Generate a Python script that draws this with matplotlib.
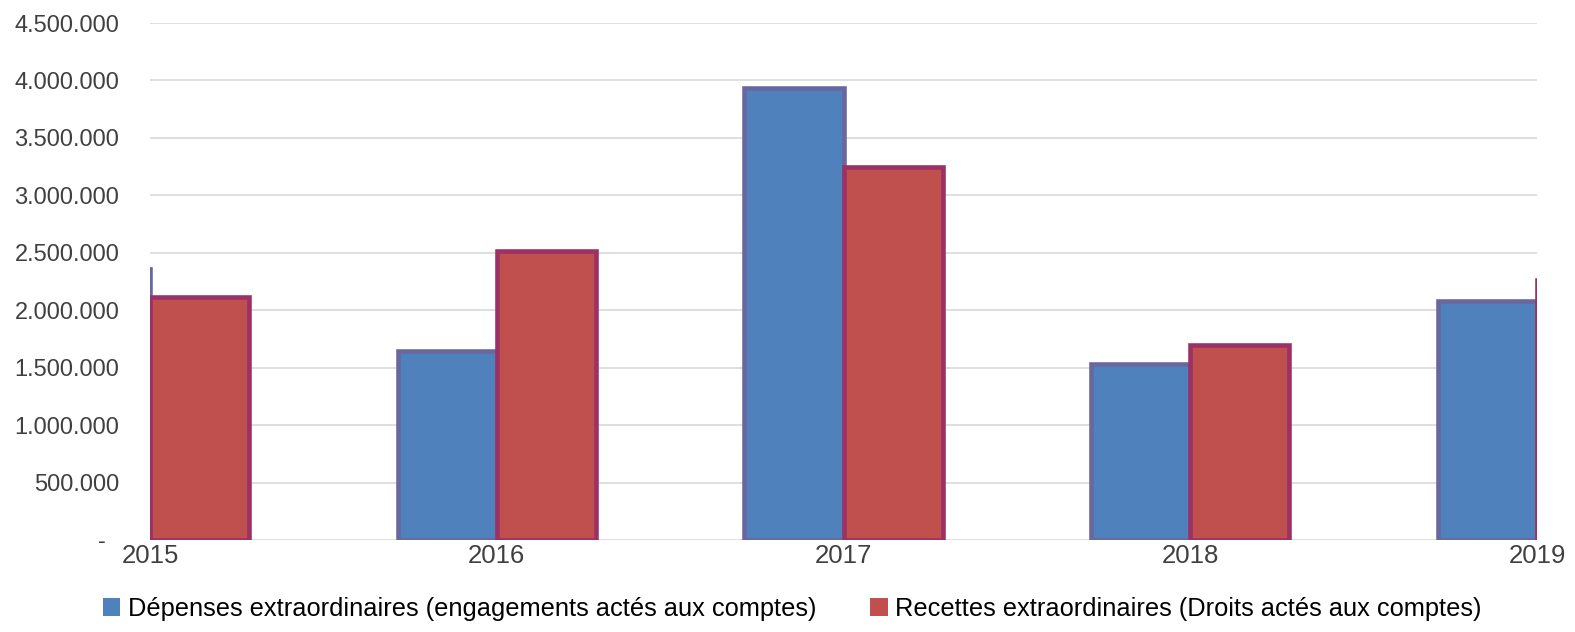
import matplotlib
matplotlib.use("Agg")
import matplotlib.pyplot as plt
from matplotlib.patches import Patch
from matplotlib.ticker import FuncFormatter
import numpy as np

plt.rcParams['font.family'] = ['Liberation Sans', 'DejaVu Sans']

years = ["2015", "2016", "2017", "2018", "2019"]
depenses = [2360000, 1648000, 3934000, 1532000, 2080000]
recettes = [2118000, 2515000, 3246000, 1697000, 2263000]
labels = ["Dépenses extraordinaires (engagements actés aux comptes)",
          "Recettes extraordinaires (Droits actés aux comptes)"]

W, H = 1575, 632
fig = plt.figure(figsize=(W / 100, H / 100), dpi=100)
ax = fig.add_axes([150 / W, 1 - 540 / H, (1537 - 150) / W, (540 - 23) / H])

x = np.arange(len(years))
bw = 0.286
ax.bar(x - bw, depenses, width=bw, align='edge', color='#4F81BD', edgecolor='#6A679E',
       linewidth=3.3, zorder=3)
ax.bar(x, recettes, width=bw, align='edge', color='#C0504D', edgecolor='#9B3165',
       linewidth=3.3, zorder=3)

ax.set_xlim(0, len(years) - 1)
ax.set_ylim(0, 4500000)
ax.set_yticks(np.arange(0, 4500001, 500000))

def fmt(v, pos):
    if v == 0:
        return "-  "
    return f"{int(v):,}".replace(",", ".")

ax.yaxis.set_major_formatter(FuncFormatter(fmt))
ax.set_xticks(x)
ax.set_xticklabels(years)
ax.grid(axis='y', color='#D9D9D9', linewidth=1.2, zorder=0)
for s in ax.spines.values():
    s.set_visible(False)
ax.tick_params(axis='both', length=0, colors='#404040')
ax.tick_params(axis='y', pad=22, labelsize=17)
ax.tick_params(axis='x', pad=3, labelsize=18.5)

handles = [Patch(facecolor='#4F81BD', edgecolor='none'),
           Patch(facecolor='#C0504D', edgecolor='none')]
fig.legend(handles, labels, loc='center', bbox_to_anchor=(0.503, 1 - 609 / H), ncol=2,
           frameon=False, fontsize=18.3, labelcolor='#000000', handlelength=0.7, handleheight=0.7,
           handletextpad=0.3, columnspacing=2.1)

fig.savefig("out.png", dpi=100)
